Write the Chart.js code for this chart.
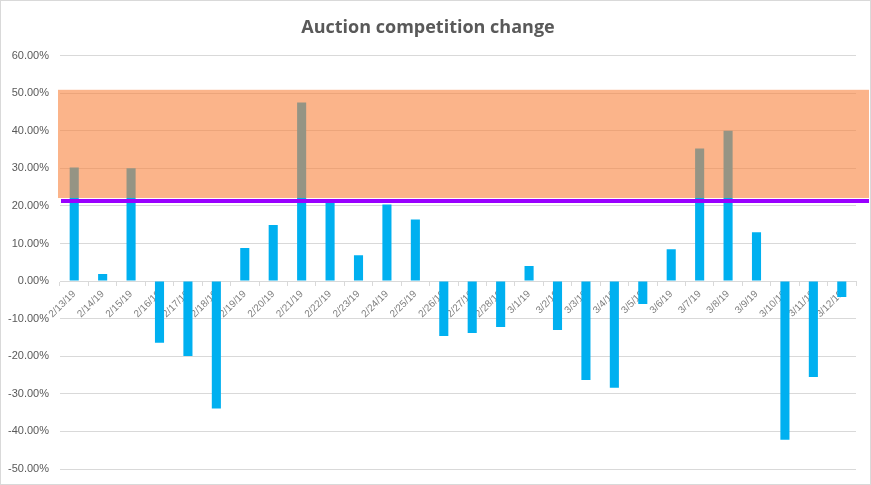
<!DOCTYPE html>
<html>
<head>
<meta charset="utf-8">
<script src="https://cdn.jsdelivr.net/npm/chart.js@4/dist/chart.umd.min.js"></script>
<style>
  html, body { margin: 0; padding: 0; background: #ffffff; }
  #wrap { width: 871px; height: 485px; position: relative; }
</style>
</head>
<body>
<div id="wrap"><canvas id="c" width="871" height="485"></canvas></div>
<script>
// ---- data ----
const categories = ["2/13/19","2/14/19","2/15/19","2/16/19","2/17/19","2/18/19","2/19/19","2/20/19","2/21/19","2/22/19","2/23/19","2/24/19","2/25/19","2/26/19","2/27/19","2/28/19","3/1/19","3/2/19","3/3/19","3/4/19","3/5/19","3/6/19","3/7/19","3/8/19","3/9/19","3/10/19","3/11/19","3/12/19"];
const changeValues = [30.2, 1.9, 30.0, -16.4, -19.9, -33.9, 8.8, 14.9, 47.5, 21.2, 6.9, 20.4, 16.4, -14.6, -13.8, -12.2, 4.0, -13.0, -26.3, -28.4, -6.1, 8.5, 35.3, 40.0, 13.0, -42.2, -25.5, -4.2];
const yTicks = [-50, -40, -30, -20, -10, 0, 10, 20, 30, 40, 50, 60];
const bandRange = [22.1, 50.9];   // highlighted zone (percent)
const thresholdValue = 21.3;      // purple threshold line (percent)

const overlayPlugin = {
  id: 'overlay',
  afterDatasetsDraw(chart) {
    const {ctx, chartArea, scales} = chart;
    const y = scales.y;
    const top = y.getPixelForValue(bandRange[1]);
    const bot = y.getPixelForValue(bandRange[0]);
    ctx.save();
    ctx.fillStyle = 'rgba(248,130,60,0.6)';
    ctx.fillRect(chartArea.left - 2, top, chart.width - 2 - (chartArea.left - 2), bot - top);
    const ly = y.getPixelForValue(thresholdValue);
    ctx.strokeStyle = '#9900FF';
    ctx.lineWidth = 4;
    ctx.beginPath();
    ctx.moveTo(chartArea.left + 1, ly);
    ctx.lineTo(chart.width - 2, ly);
    ctx.stroke();
    ctx.restore();
  },
  afterDraw(chart) {
    const ctx = chart.ctx;
    ctx.save();
    ctx.strokeStyle = '#d9d9d9';
    ctx.lineWidth = 1;
    ctx.strokeRect(0.5, 0.5, chart.width - 1, chart.height - 1);
    ctx.restore();
  }
};

new Chart(document.getElementById('c'), {
  type: 'bar',
  data: {
    labels: categories,
    datasets: [{
      label: 'Auction competition change',
      data: changeValues,
      backgroundColor: '#00B0F0',
      borderWidth: 0,
      barPercentage: 0.32,
      categoryPercentage: 1.0
    }]
  },
  options: {
    responsive: false,
    animation: false,
    devicePixelRatio: 1,
    layout: { padding: { left: 0, right: 15, top: 0, bottom: 16 } },
    plugins: {
      legend: { display: false },
      tooltip: { enabled: false },
      title: {
        display: true,
        text: 'Auction competition change',
        color: '#595959',
        font: { family: 'Open Sans', size: 18, weight: 'bold' },
        padding: { top: 17, bottom: 17 }
      }
    },
    scales: {
      x: {
        position: { y: 0 },
        offset: true,
        afterFit(scale) { scale.paddingLeft = 0; scale.paddingRight = 0; scale.paddingTop = 0; scale.paddingBottom = 0; },
        grid: { display: true, drawOnChartArea: false, offset: true, color: '#d9d9d9', tickLength: 4 },
        border: { display: true, color: '#d9d9d9' },
        ticks: {
          color: '#808080',
          font: { family: 'Liberation Sans', size: 10 },
          minRotation: 45, maxRotation: 45,
          autoSkip: false,
          padding: 3
        }
      },
      y: {
        min: -50, max: 60,
        afterBuildTicks(scale) { scale.ticks = yTicks.map(v => ({ value: v })); },
        afterFit(scale) { scale.width = 60; scale.paddingTop = 0; scale.paddingBottom = 0; },
        grid: { color: '#d9d9d9', drawTicks: false },
        border: { display: false },
        ticks: {
          color: '#595959',
          font: { family: 'Liberation Sans', size: 11 },
          padding: 11,
          callback: v => v.toFixed(2) + '%'
        }
      }
    }
  },
  plugins: [overlayPlugin]
});
</script>
</body>
</html>
